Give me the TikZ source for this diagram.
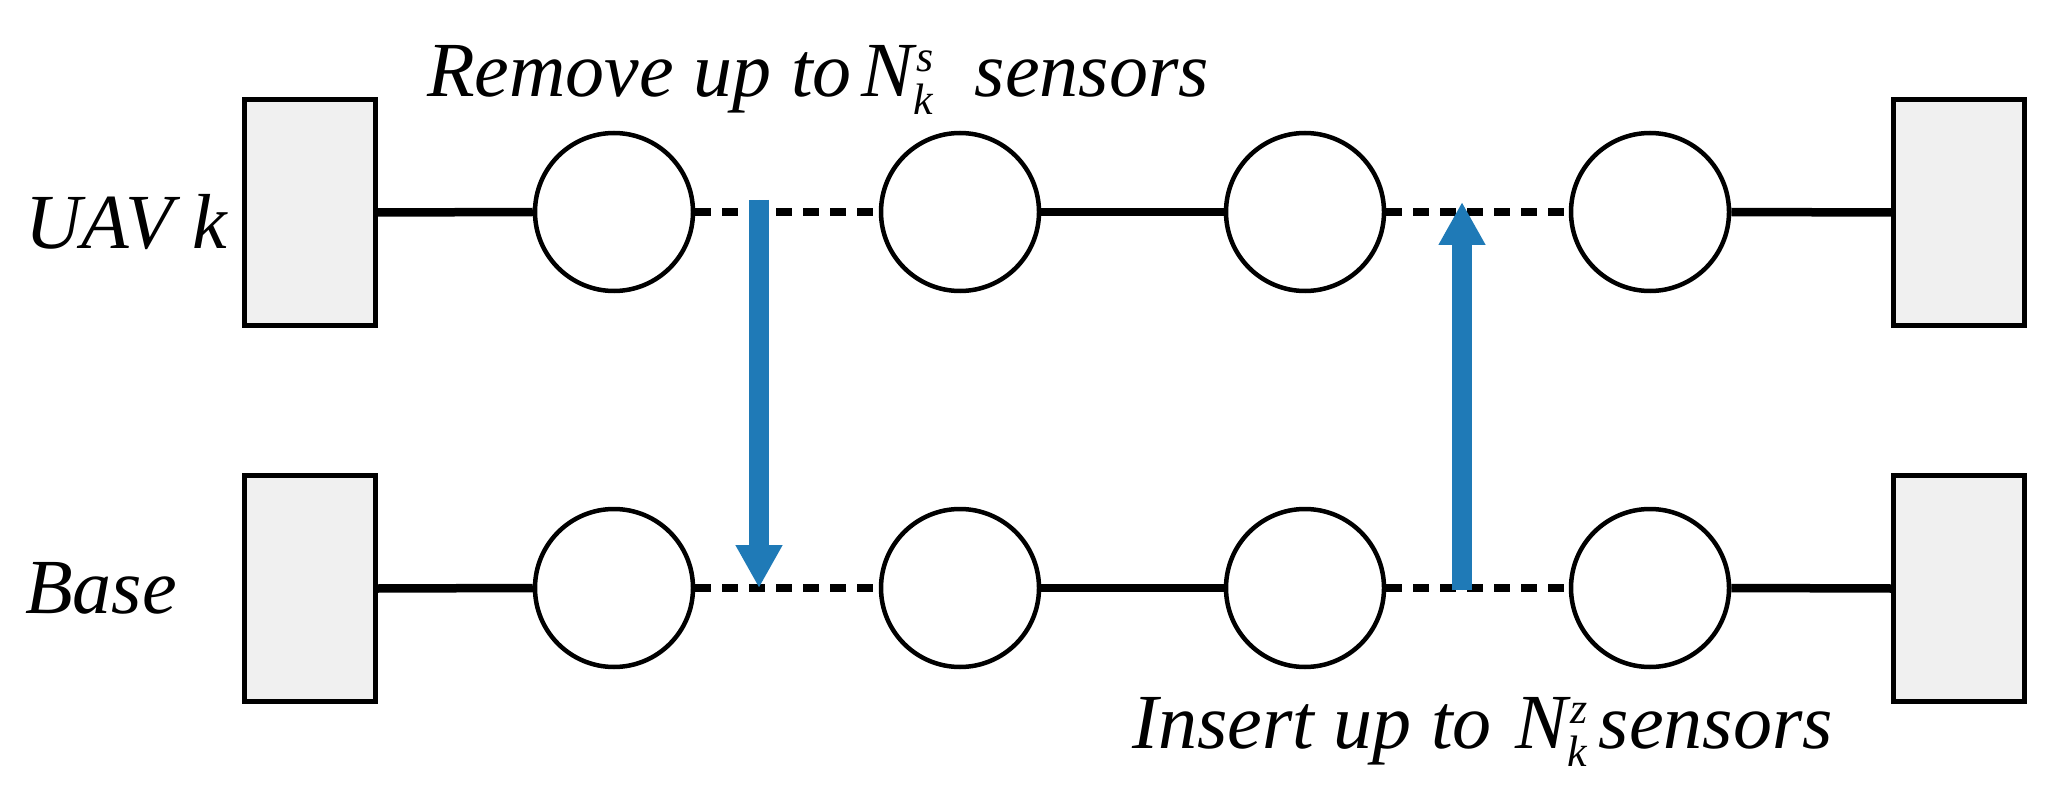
\documentclass[tikz,border=0pt]{standalone}
\usepackage{fontspec}
\setmainfont{LiberationSerif}[Extension=.ttf, UprightFont=*-Regular, ItalicFont=*-Italic, BoldFont=*-Bold, BoldItalicFont=*-BoldItalic]
\usetikzlibrary{arrows.meta}
\definecolor{arrowblue}{RGB}{31,122,183}
\definecolor{boxgray}{RGB}{240,240,240}
\newcommand{\Nsym}[2]{N\makebox[0pt][l]{\hspace{3pt}\raisebox{25pt}{\fontsize{44}{44}\selectfont #1}}\raisebox{-18pt}{\fontsize{44}{44}\selectfont #2}}
\tikzset{
  lbl/.style={font=\fontsize{78}{90}\selectfont\itshape, inner sep=0pt},
  station/.style={draw, line width=5pt, fill=boxgray, minimum width=131pt, minimum height=226pt, inner sep=0pt},
  sensor/.style={circle, draw, line width=4.5pt, minimum size=158pt, inner sep=0pt, fill=white},
  solidlink/.style={line width=8.5pt},
  dashlink/.style={line width=8.5pt, dash pattern=on 16pt off 11pt},
  move/.style={draw=arrowblue, fill=arrowblue, line width=20pt, -{Triangle[width=44pt,length=43pt]}}
}
\begin{document}
\begin{tikzpicture}[x=1pt,y=-1pt]
\useasboundingbox[fill=white] (0,0) rectangle (2060,799);
% UAV row
\node[station] (u0) at (309.5,212.5) {};
\node[sensor] (u1) at (614,212) {};
\node[sensor] (u2) at (960,212) {};
\node[sensor] (u3) at (1305,212) {};
\node[sensor] (u4) at (1650,212) {};
\node[station] (u5) at (1959,212.5) {};
% Base row
\node[station] (b0) at (309.5,588.5) {};
\node[sensor] (b1) at (614,588) {};
\node[sensor] (b2) at (960,588) {};
\node[sensor] (b3) at (1305,588) {};
\node[sensor] (b4) at (1650,588) {};
\node[station] (b5) at (1959,588.5) {};
% links
\draw[solidlink] (u0.east) -- (u1.west);
\draw[dashlink] (u1.east) -- (u2.west);
\draw[solidlink] (u2.east) -- (u3.west);
\draw[dashlink] (u3.east) -- (u4.west);
\draw[solidlink] (u4.east) -- (u5.west);
\draw[solidlink] (b0.east) -- (b1.west);
\draw[dashlink] (b1.east) -- (b2.west);
\draw[solidlink] (b2.east) -- (b3.west);
\draw[dashlink] (b3.east) -- (b4.west);
\draw[solidlink] (b4.east) -- (b5.west);
% moves
\coordinate (d1) at (759,200);
\coordinate (d2) at (759,588);
\coordinate (i1) at (1462,590);
\coordinate (i2) at (1462,202);
\draw[move] (d1) -- (d2);
\draw[move] (i1) -- (i2);
% labels
\node[lbl, anchor=base west] (uav) at (25,249) {UAV k};
\node[lbl, anchor=base west] (base) at (25,613) {Base};
\node[lbl, anchor=base west] (rem) at (427,97) {Remove up to\hspace{10pt}\Nsym{s}{k}\hspace{22pt} sensors};
\node[lbl, anchor=base west] (ins) at (1132,748) {Insert up to \hspace{4pt}\Nsym{z}{k}\hspace{12pt}sensors};
\end{tikzpicture}
\end{document}
